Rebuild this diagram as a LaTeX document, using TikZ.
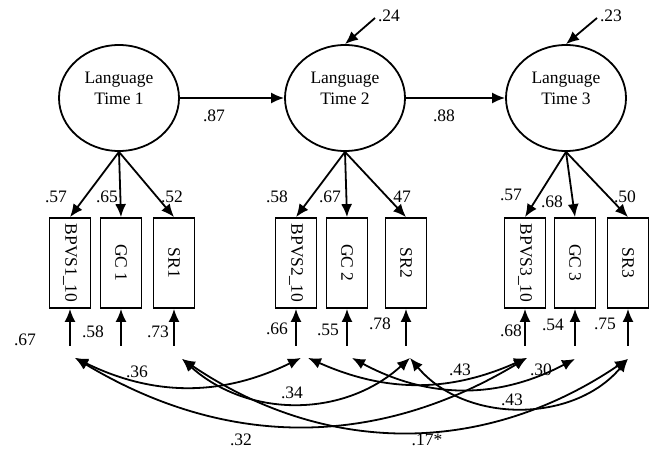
\documentclass[tikz,border=0pt]{standalone}
\usepackage{fontspec}
\setmainfont{Liberation Serif}
\usepackage{graphicx}
\usetikzlibrary{arrows.meta,positioning,shapes.geometric}

\begin{document}
\begin{tikzpicture}[->, >={Latex[length=13pt,width=11pt]}, line width=1.8pt, font=\fontsize{17.5}{21}\selectfont]
\tikzstyle{latent} = [draw, ellipse, minimum width=120pt, minimum height=106pt, inner sep=0pt]
\tikzstyle{obs} = [draw, minimum width=41pt, minimum height=90pt, inner sep=0pt]
\tikzstyle{coef} = [inner sep=0pt]

\useasboundingbox (0pt,0pt) rectangle (658pt,-452pt);

% latent variables
\node [latent, label={[name=txt1, align=center, yshift=10pt]center:Language\\Time 1}] (lang1) at (119pt,-98pt) {};

\node [latent, label={[name=txt2, align=center, yshift=10pt]center:Language\\Time 2}] (lang2) [right of=lang1, node distance=226pt] {};
\draw (lang1) -- (lang2);
\node [coef] (b12) at (214pt,-116pt) {.87};

\node [latent, label={[name=txt3, align=center, yshift=10pt]center:Language\\Time 3}] (lang3) [right of=lang2, node distance=221pt] {};
\draw (lang2) -- (lang3);
\node [coef] (b23) at (444pt,-116pt) {.88};

% disturbances
\coordinate (d2) at (375pt,-18pt);
\draw (d2) -- (lang2.north);
\node [coef] (v2) at (389pt,-16pt) {.24};

\coordinate (d3) at (597pt,-18pt);
\draw (d3) -- (lang3.north);
\node [coef] (v3) at (611pt,-16pt) {.23};

% indicators time 1
\node [obs] (gc1) [below of=lang1, node distance=165pt, xshift=2pt] {\rotatebox{-90}{GC 1}};
\node [obs] (bpvs1) [left of=gc1, node distance=51pt] {\rotatebox{-90}{BPVS1\_10}};
\node [obs] (sr1) [right of=gc1, node distance=53pt] {\rotatebox{-90}{SR1}};
\draw (lang1.south) -- (bpvs1.north);
\draw (lang1.south) -- (gc1.north);
\draw (lang1.south) -- (sr1.north);
\node [coef] (l11) at (56pt,-197pt) {.57};
\node [coef] (l12) at (107pt,-197pt) {.65};
\node [coef] (l13) at (172pt,-197pt) {.52};

% indicators time 2
\node [obs] (gc2) [below of=lang2, node distance=165pt, xshift=2pt] {\rotatebox{-90}{GC 2}};
\node [obs] (bpvs2) [left of=gc2, node distance=51pt] {\rotatebox{-90}{BPVS2\_10}};
\node [obs] (sr2) [right of=gc2, node distance=59pt] {\rotatebox{-90}{SR2}};
\draw (lang2.south) -- (bpvs2.north);
\draw (lang2.south) -- (gc2.north);
\draw (lang2.south) -- (sr2.north);
\node [coef] (l21) at (277pt,-197pt) {.58};
\node [coef] (l22) at (330pt,-197pt) {.67};
\node [coef] (l23) at (400pt,-197pt) {.47};

% indicators time 3
\node [obs] (gc3) [below of=lang3, node distance=165pt, xshift=9pt] {\rotatebox{-90}{GC 3}};
\node [obs] (bpvs3) [left of=gc3, node distance=50pt] {\rotatebox{-90}{BPVS3\_10}};
\node [obs] (sr3) [right of=gc3, node distance=53pt] {\rotatebox{-90}{SR3}};
\draw (lang3.south) -- (bpvs3.north);
\draw (lang3.south) -- (gc3.north);
\draw (lang3.south) -- (sr3.north);
\node [coef] (l31) at (511pt,-195pt) {.57};
\node [coef] (l32) at (552pt,-202pt) {.68};
\node [coef] (l33) at (625pt,-197pt) {.50};

% errors
\coordinate (ebpvs1) at ([yshift=-37pt]bpvs1.south);
\coordinate (egc1) at ([yshift=-37pt]gc1.south);
\coordinate (esr1) at ([yshift=-37pt]sr1.south);
\coordinate (ebpvs2) at ([yshift=-37pt]bpvs2.south);
\coordinate (egc2) at ([yshift=-37pt]gc2.south);
\coordinate (esr2) at ([yshift=-37pt]sr2.south);
\coordinate (ebpvs3) at ([yshift=-37pt]bpvs3.south);
\coordinate (egc3) at ([yshift=-37pt]gc3.south);
\coordinate (esr3) at ([yshift=-37pt]sr3.south);
\draw (ebpvs1) -- (bpvs1.south);
\draw (egc1) -- (gc1.south);
\draw (esr1) -- (sr1.south);
\draw (ebpvs2) -- (bpvs2.south);
\draw (egc2) -- (gc2.south);
\draw (esr2) -- (sr2.south);
\draw (ebpvs3) -- (bpvs3.south);
\draw (egc3) -- (gc3.south);
\draw (esr3) -- (sr3.south);
\node [coef] (u11) at (25pt,-340pt) {.67};
\node [coef] (u12) at (93pt,-332pt) {.58};
\node [coef] (u13) at (158pt,-332pt) {.73};
\node [coef] (u21) at (277pt,-329pt) {.66};
\node [coef] (u22) at (328pt,-330pt) {.55};
\node [coef] (u23) at (380pt,-324pt) {.78};
\node [coef] (u31) at (511pt,-331pt) {.68};
\node [coef] (u32) at (553pt,-325pt) {.54};
\node [coef] (u33) at (605pt,-324pt) {.75};

% error covariances
\coordinate (cbpvs1) at ([shift={(5pt,-12pt)}]ebpvs1);
\coordinate (csr1) at ([shift={(8pt,-13pt)}]esr1);
\coordinate (cbpvs2a) at ([shift={(5pt,-12pt)}]ebpvs2);
\coordinate (cbpvs2b) at ([shift={(12pt,-12pt)}]ebpvs2);
\coordinate (cgc2) at ([shift={(5pt,-12pt)}]egc2);
\coordinate (csr2) at ([shift={(4pt,-12pt)}]esr2);
\coordinate (cbpvs3) at ([shift={(2pt,-12pt)}]ebpvs3);
\coordinate (cgc3) at ([shift={(0pt,-13pt)}]egc3);
\coordinate (csr3) at ([shift={(0pt,-13pt)}]esr3);

\draw [<->] (cbpvs1) to[bend right=26] (cbpvs2a);
\node [coef] (r1) at (137pt,-372pt) {.36};
\draw [<->] (cbpvs1) to[bend right=31] (cbpvs3);
\node [coef] (r2) at (241pt,-440pt) {.32};
\draw [<->] (csr1) to[bend right=42] (csr2);
\node [coef] (r3) at (292pt,-393pt) {.34};
\draw [<->] (csr1) to[bend right=34] (csr3);
\node [coef] (r4) at (427pt,-440pt) {.17*};
\draw [<->] (cbpvs2b) to[bend right=24] (cbpvs3);
\node [coef] (r5) at (460pt,-370pt) {.43};
\draw [<->] (cgc2) to[bend right=28] (cgc3);
\node [coef] (r6) at (541pt,-370pt) {.30};
\draw [<->] (csr2) to[bend right=50] (csr3);
\node [coef] (r7) at (512pt,-400pt) {.43};
\end{tikzpicture}
\end{document}
